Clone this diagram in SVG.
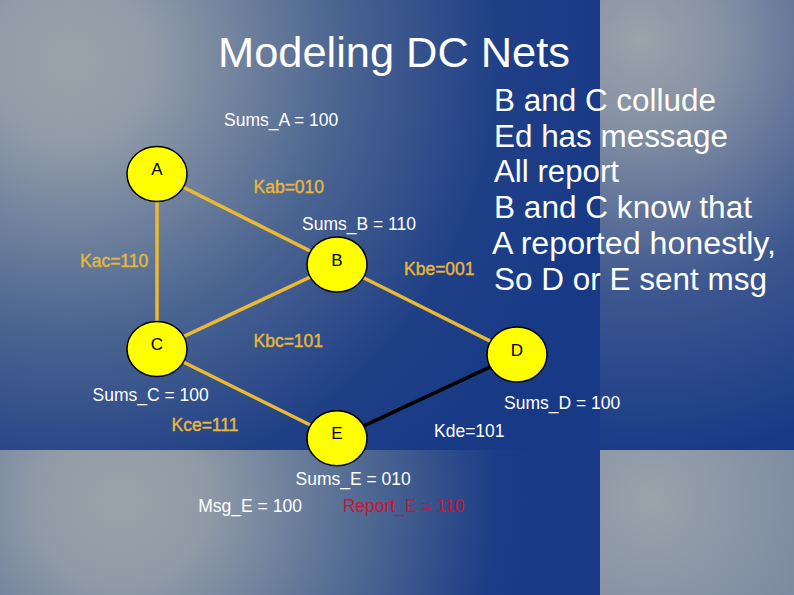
<svg xmlns="http://www.w3.org/2000/svg" width="794" height="595" viewBox="0 0 794 595">
  <defs>
    <radialGradient id="bgTL" gradientUnits="userSpaceOnUse" cx="70" cy="60" r="540">
      <stop offset="0" stop-color="#9aa3ab"/>
      <stop offset="0.15" stop-color="#929ca8"/>
      <stop offset="0.5" stop-color="#4b6591"/>
      <stop offset="0.8" stop-color="#1f3f86"/>
      <stop offset="1" stop-color="#183a86"/>
    </radialGradient>
    <radialGradient id="bgTR" gradientUnits="userSpaceOnUse" cx="640" cy="40" r="420">
      <stop offset="0" stop-color="#9aa3ab"/>
      <stop offset="0.2" stop-color="#8691a4"/>
      <stop offset="0.6" stop-color="#3d578f"/>
      <stop offset="1" stop-color="#183a86"/>
    </radialGradient>
    <radialGradient id="bgBL" gradientUnits="userSpaceOnUse" cx="120" cy="500" r="420">
      <stop offset="0" stop-color="#9aa3ab"/>
      <stop offset="0.2" stop-color="#919ba7"/>
      <stop offset="0.6" stop-color="#4d6792"/>
      <stop offset="0.9" stop-color="#1c3c86"/>
      <stop offset="1" stop-color="#183a86"/>
    </radialGradient>
    <radialGradient id="bgBR" gradientUnits="userSpaceOnUse" cx="650" cy="500" r="320">
      <stop offset="0" stop-color="#9aa3ab"/>
      <stop offset="0.5" stop-color="#7e8ca2"/>
      <stop offset="1" stop-color="#5a719c"/>
    </radialGradient>
    <style>
      .node ellipse { fill: #ffff00; stroke: #000; stroke-width: 1.5; }
      .node text { font-family: "Liberation Sans", Arial, sans-serif; font-size: 17px; fill: #000; text-anchor: middle; }
      .edge { stroke: #ecb935; stroke-width: 3.5; }
      .edge.black { stroke: #000; }
      .lbl { font-family: "Liberation Sans", Arial, sans-serif; font-size: 17.5px; fill: #fff; }
      .gold { fill: #e8b83a; stroke: #e8b83a; stroke-width: 0.4; }
      .red { fill: #cc1530; }
      .big { font-family: "Liberation Sans", Arial, sans-serif; fill: #fff; }
    </style>
  </defs>

  <g id="background">
    <rect x="0" y="0" width="600" height="450" fill="url(#bgTL)"/>
    <rect x="600" y="0" width="194" height="450" fill="url(#bgTR)"/>
    <rect x="0" y="450" width="600" height="145" fill="url(#bgBL)"/>
    <rect x="600" y="450" width="194" height="145" fill="url(#bgBR)"/>
  </g>

  <text id="title" class="big" x="218" y="66.5" font-size="42" textLength="352" lengthAdjust="spacingAndGlyphs">Modeling DC Nets</text>

  <g id="notes" class="big" font-size="31">
    <text x="494" y="110.7" textLength="222" lengthAdjust="spacingAndGlyphs">B and C collude</text>
    <text x="494" y="146.5" textLength="234" lengthAdjust="spacingAndGlyphs">Ed has message</text>
    <text x="494" y="182.3" textLength="125" lengthAdjust="spacingAndGlyphs">All report</text>
    <text x="494" y="218.1" textLength="258" lengthAdjust="spacingAndGlyphs">B and C know that</text>
    <text x="492" y="253.9" textLength="284" lengthAdjust="spacingAndGlyphs">A reported honestly,</text>
    <text x="494" y="289.7" textLength="273" lengthAdjust="spacingAndGlyphs">So D or E sent msg</text>
  </g>

  <g id="connectors">
    <line id="e-AB" class="edge" x1="157" y1="174" x2="337" y2="264.5"/>
    <line id="e-AC" class="edge" x1="157" y1="174" x2="157" y2="349"/>
    <line id="e-BC" class="edge" x1="337" y1="264.5" x2="157" y2="349"/>
    <line id="e-BD" class="edge" x1="337" y1="264.5" x2="517" y2="354.5"/>
    <line id="e-CE" class="edge" x1="157" y1="349" x2="337" y2="438.3"/>
    <line id="e-DE" class="edge black" x1="517" y1="354.5" x2="337" y2="438.3"/>
  </g>

  <g id="edge-labels" class="lbl">
    <text class="gold" x="253.5" y="193">Kab=010</text>
    <text class="gold" x="80" y="267">Kac=110</text>
    <text class="gold" x="253.5" y="347">Kbc=101</text>
    <text class="gold" x="404" y="275">Kbe=001</text>
    <text class="gold" x="171.5" y="431">Kce=111</text>
    <text x="434" y="437">Kde=101</text>
  </g>

  <g id="node-A" class="node">
    <ellipse cx="157" cy="174" rx="30" ry="27.5"/>
    <text x="157" y="175">A</text>
  </g>
  <g id="node-B" class="node">
    <ellipse cx="337" cy="264.5" rx="30" ry="27.5"/>
    <text x="337" y="265.5">B</text>
  </g>
  <g id="node-C" class="node">
    <ellipse cx="157" cy="349" rx="30" ry="27.5"/>
    <text x="157" y="350">C</text>
  </g>
  <g id="node-D" class="node">
    <ellipse cx="517" cy="354.5" rx="30" ry="27.5"/>
    <text x="517" y="355.5">D</text>
  </g>
  <g id="node-E" class="node">
    <ellipse cx="337" cy="438.3" rx="30" ry="27.5"/>
    <text x="337" y="439.3">E</text>
  </g>

  <g id="sums" class="lbl">
    <text x="224" y="126">Sums_A = 100</text>
    <text x="302" y="230">Sums_B = 110</text>
    <text x="92.5" y="401">Sums_C = 100</text>
    <text x="504" y="408.5">Sums_D = 100</text>
    <text x="295.5" y="485">Sums_E = 010</text>
    <text x="198.3" y="512">Msg_E = 100</text>
    <text class="red" x="342.7" y="512">Report_E = 110</text>
  </g>
</svg>
